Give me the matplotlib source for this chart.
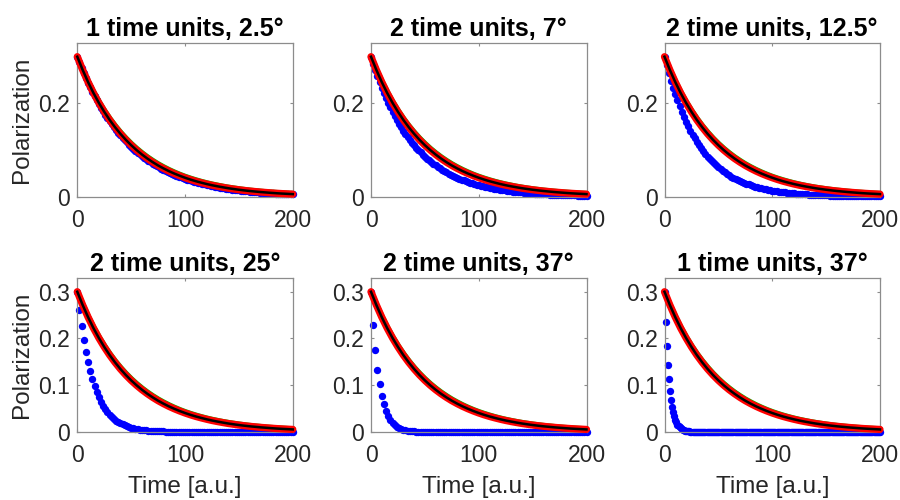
import matplotlib
matplotlib.use("Agg")
import matplotlib.pyplot as plt

plt.rcParams['font.family'] = ['Liberation Sans', 'DejaVu Sans']

titles = ["1 time units, 2.5°", "2 time units, 7°", "2 time units, 12.5°",
          "2 time units, 25°", "2 time units, 37°", "1 time units, 37°"]

# sampling grids
time_step2 = list(range(0, 201, 2))
time_step1 = list(range(0, 201, 1))
time_step5 = list(range(0, 201, 5))

# red reference curve (thick), black fit, green curve (read every 5 units)
red_vals = [0.3000, 0.2715, 0.2456, 0.2222, 0.2011, 0.1820, 0.1646, 0.1490, 0.1348, 0.1220,
            0.1104, 0.0999, 0.0904, 0.0818, 0.0740, 0.0669, 0.0606, 0.0548, 0.0496, 0.0449,
            0.0406, 0.0367, 0.0332, 0.0301, 0.0272, 0.0246, 0.0223, 0.0202, 0.0182, 0.0165,
            0.0149, 0.0135, 0.0122, 0.0111, 0.0100, 0.0091, 0.0082, 0.0074, 0.0067, 0.0061,
            0.0055]
black_vals = [0.3000, 0.2715, 0.2456, 0.2222, 0.2011, 0.1820, 0.1646, 0.1490, 0.1348, 0.1220,
              0.1104, 0.0999, 0.0904, 0.0818, 0.0740, 0.0669, 0.0606, 0.0548, 0.0496, 0.0449,
              0.0406, 0.0367, 0.0332, 0.0301, 0.0272, 0.0246, 0.0223, 0.0202, 0.0182, 0.0165,
              0.0149, 0.0135, 0.0122, 0.0111, 0.0100, 0.0091, 0.0082, 0.0074, 0.0067, 0.0061,
              0.0055]
green_vals = [0.3000, 0.2722, 0.2470, 0.2242, 0.2034, 0.1846, 0.1675, 0.1520, 0.1380, 0.1252,
              0.1136, 0.1031, 0.0936, 0.0849, 0.0771, 0.0699, 0.0635, 0.0576, 0.0523, 0.0474,
              0.0430, 0.0391, 0.0355, 0.0322, 0.0292, 0.0265, 0.0241, 0.0218, 0.0198, 0.0180,
              0.0163, 0.0148, 0.0134, 0.0122, 0.0111, 0.0100, 0.0091, 0.0083, 0.0075, 0.0068,
              0.0062]

# blue simulated points
blue_p1 = [0.3000, 0.2879, 0.2763, 0.2651, 0.2544, 0.2441, 0.2342, 0.2248, 0.2157, 0.2070,
           0.1986, 0.1906, 0.1829, 0.1755, 0.1684, 0.1616, 0.1551, 0.1488, 0.1428, 0.1370,
           0.1315, 0.1262, 0.1211, 0.1162, 0.1115, 0.1070, 0.1027, 0.0985, 0.0945, 0.0907,
           0.0871, 0.0836, 0.0802, 0.0769, 0.0738, 0.0709, 0.0680, 0.0652, 0.0626, 0.0601,
           0.0577, 0.0553, 0.0531, 0.0509, 0.0489, 0.0469, 0.0450, 0.0432, 0.0415, 0.0398,
           0.0382, 0.0366, 0.0351, 0.0337, 0.0324, 0.0311, 0.0298, 0.0286, 0.0274, 0.0263,
           0.0253, 0.0242, 0.0233, 0.0223, 0.0214, 0.0206, 0.0197, 0.0189, 0.0182, 0.0174,
           0.0167, 0.0161, 0.0154, 0.0148, 0.0142, 0.0136, 0.0131, 0.0125, 0.0120, 0.0115,
           0.0111, 0.0106, 0.0102, 0.0098, 0.0094, 0.0090, 0.0086, 0.0083, 0.0080, 0.0076,
           0.0073, 0.0070, 0.0067, 0.0065, 0.0062, 0.0060, 0.0057, 0.0055, 0.0053, 0.0051,
           0.0049]
blue_p2 = [0.3000, 0.2854, 0.2715, 0.2582, 0.2456, 0.2336, 0.2222, 0.2114, 0.2011, 0.1913,
           0.1820, 0.1731, 0.1646, 0.1566, 0.1490, 0.1417, 0.1348, 0.1282, 0.1220, 0.1160,
           0.1104, 0.1050, 0.0999, 0.0950, 0.0904, 0.0860, 0.0818, 0.0778, 0.0740, 0.0704,
           0.0669, 0.0637, 0.0606, 0.0576, 0.0548, 0.0521, 0.0496, 0.0472, 0.0449, 0.0427,
           0.0406, 0.0386, 0.0367, 0.0349, 0.0332, 0.0316, 0.0301, 0.0286, 0.0272, 0.0259,
           0.0246, 0.0234, 0.0223, 0.0212, 0.0202, 0.0192, 0.0182, 0.0174, 0.0165, 0.0157,
           0.0149, 0.0142, 0.0135, 0.0129, 0.0122, 0.0116, 0.0111, 0.0105, 0.0100, 0.0095,
           0.0091, 0.0086, 0.0082, 0.0078, 0.0074, 0.0071, 0.0067, 0.0064, 0.0061, 0.0058,
           0.0055, 0.0052, 0.0050, 0.0047, 0.0045, 0.0043, 0.0041, 0.0039, 0.0037, 0.0035,
           0.0033, 0.0032, 0.0030, 0.0029, 0.0027, 0.0026, 0.0025, 0.0024, 0.0022, 0.0021,
           0.0020]
blue_p3 = [0.3000, 0.2818, 0.2647, 0.2487, 0.2336, 0.2195, 0.2062, 0.1937, 0.1820, 0.1709,
           0.1606, 0.1508, 0.1417, 0.1331, 0.1251, 0.1175, 0.1104, 0.1037, 0.0974, 0.0915,
           0.0860, 0.0808, 0.0759, 0.0713, 0.0669, 0.0629, 0.0591, 0.0555, 0.0521, 0.0490,
           0.0460, 0.0432, 0.0406, 0.0381, 0.0358, 0.0337, 0.0316, 0.0297, 0.0279, 0.0262,
           0.0246, 0.0231, 0.0217, 0.0204, 0.0192, 0.0180, 0.0169, 0.0159, 0.0149, 0.0140,
           0.0132, 0.0124, 0.0116, 0.0109, 0.0103, 0.0097, 0.0091, 0.0085, 0.0080, 0.0075,
           0.0071, 0.0066, 0.0062, 0.0059, 0.0055, 0.0052, 0.0049, 0.0046, 0.0043, 0.0040,
           0.0038, 0.0036, 0.0033, 0.0031, 0.0029, 0.0028, 0.0026, 0.0024, 0.0023, 0.0022,
           0.0020, 0.0019, 0.0018, 0.0017, 0.0016, 0.0015, 0.0014, 0.0013, 0.0012, 0.0012,
           0.0011, 0.0010, 0.0010, 0.0009, 0.0008, 0.0008, 0.0007, 0.0007, 0.0007, 0.0006,
           0.0006]
blue_p4 = [0.3000, 0.2610, 0.2271, 0.1976, 0.1719, 0.1495, 0.1301, 0.1132, 0.0985, 0.0857,
           0.0745, 0.0648, 0.0564, 0.0491, 0.0427, 0.0371, 0.0323, 0.0281, 0.0245, 0.0213,
           0.0185, 0.0161, 0.0140, 0.0122, 0.0106, 0.0092, 0.0080, 0.0070, 0.0061, 0.0053,
           0.0046, 0.0040, 0.0035, 0.0030, 0.0026, 0.0023, 0.0020, 0.0017, 0.0015, 0.0013,
           0.0011, 0.0010, 0.0009, 0.0008, 0.0007, 0.0006, 0.0005, 0.0004, 0.0004, 0.0003,
           0.0003, 0, 0, 0, 0, 0, 0, 0, 0, 0,
           0, 0, 0, 0, 0, 0, 0, 0, 0, 0,
           0, 0, 0, 0, 0, 0, 0, 0, 0, 0,
           0, 0, 0, 0, 0, 0, 0, 0, 0, 0,
           0, 0, 0, 0, 0, 0, 0, 0, 0, 0,
           0]
blue_p5 = [0.3000, 0.2289, 0.1747, 0.1333, 0.1017, 0.0776, 0.0592, 0.0452, 0.0345, 0.0263,
           0.0201, 0.0153, 0.0117, 0.0089, 0.0068, 0.0052, 0.0040, 0.0030, 0.0023, 0.0018,
           0.0013, 0.0010, 0.0008, 0.0006, 0.0005, 0.0003, 0, 0, 0, 0,
           0, 0, 0, 0, 0, 0, 0, 0, 0, 0,
           0, 0, 0, 0, 0, 0, 0, 0, 0, 0,
           0, 0, 0, 0, 0, 0, 0, 0, 0, 0,
           0, 0, 0, 0, 0, 0, 0, 0, 0, 0,
           0, 0, 0, 0, 0, 0, 0, 0, 0, 0,
           0, 0, 0, 0, 0, 0, 0, 0, 0, 0,
           0, 0, 0, 0, 0, 0, 0, 0, 0, 0,
           0]
blue_p6 = [0.3000, 0.2349, 0.1839, 0.1440, 0.1128, 0.0883, 0.0691, 0.0541, 0.0424, 0.0332,
           0.0260, 0.0204, 0.0159, 0.0125, 0.0098, 0.0077, 0.0060, 0.0047, 0.0037, 0.0029,
           0.0023, 0.0018, 0.0014, 0.0011, 0.0009, 0.0007, 0.0005, 0.0004, 0.0003, 0,
           0, 0, 0, 0, 0, 0, 0, 0, 0, 0,
           0, 0, 0, 0, 0, 0, 0, 0, 0, 0,
           0, 0, 0, 0, 0, 0, 0, 0, 0, 0,
           0, 0, 0, 0, 0, 0, 0, 0, 0, 0,
           0, 0, 0, 0, 0, 0, 0, 0, 0, 0,
           0, 0, 0, 0, 0, 0, 0, 0, 0, 0,
           0, 0, 0, 0, 0, 0, 0, 0, 0, 0,
           0, 0, 0, 0, 0, 0, 0, 0, 0, 0,
           0, 0, 0, 0, 0, 0, 0, 0, 0, 0,
           0, 0, 0, 0, 0, 0, 0, 0, 0, 0,
           0, 0, 0, 0, 0, 0, 0, 0, 0, 0,
           0, 0, 0, 0, 0, 0, 0, 0, 0, 0,
           0, 0, 0, 0, 0, 0, 0, 0, 0, 0,
           0, 0, 0, 0, 0, 0, 0, 0, 0, 0,
           0, 0, 0, 0, 0, 0, 0, 0, 0, 0,
           0, 0, 0, 0, 0, 0, 0, 0, 0, 0,
           0, 0, 0, 0, 0, 0, 0, 0, 0, 0,
           0]

blue_series = [(time_step2, blue_p1), (time_step2, blue_p2), (time_step2, blue_p3),
               (time_step2, blue_p4), (time_step2, blue_p5), (time_step1, blue_p6)]

x_ticks = [0, 100, 200]
y_ticks_top = [0, 0.2]
y_ticks_bottom = [0, 0.1, 0.2, 0.3]
y_tick_labels_top = ["0", "0.2"]
y_tick_labels_bottom = ["0", "0.1", "0.2", "0.3"]

W, H = 900, 500
fig = plt.figure(figsize=(9, 5), dpi=100)
lefts = [77.3, 371.0, 664.5]
width = 215.5
rows = [(42.7, 196.7), (277.7, 432.0)]

spine_color = '#8c8c8c'
text_color = '#262626'

for i in range(6):
    r, c = divmod(i, 3)
    top, bot = rows[r]
    ax = fig.add_axes([lefts[c] / W, 1 - bot / H, width / W, (bot - top) / H])
    tx, by = blue_series[i]
    ax.plot(tx, by, 'o', color='#0000ff', ms=5.3, mew=0, clip_on=False, zorder=2)
    ax.plot(time_step5, green_vals, '-', color='#00c000', lw=4.2, clip_on=False, zorder=3,
            solid_capstyle='round')
    ax.plot(time_step5, red_vals, '-', color='#ff0000', lw=5.2, clip_on=False, zorder=4,
            solid_capstyle='round')
    ax.plot(time_step5, black_vals, '-', color='#000000', lw=1.8, clip_on=False, zorder=5)
    ax.set_xlim(0, 200)
    ax.set_ylim(0, 0.33)
    ax.set_xticks(x_ticks)
    ax.set_xticklabels([str(v) for v in x_ticks])
    if r == 0:
        ax.set_yticks(y_ticks_top)
        ax.set_yticklabels(y_tick_labels_top)
    else:
        ax.set_yticks(y_ticks_bottom)
        ax.set_yticklabels(y_tick_labels_bottom)
        ax.set_xlabel("Time [a.u.]", fontsize=17.5, color=text_color, labelpad=6)
    if c == 0:
        ax.set_ylabel("Polarization", fontsize=17.5, color=text_color, labelpad=4)
    ax.tick_params(direction='in', length=2.5, width=0.8, colors=spine_color,
                   labelcolor=text_color, labelsize=16.5, top=True, right=True)
    ax.tick_params(axis='x', pad=9)
    ax.tick_params(axis='y', pad=5)
    for s in ax.spines.values():
        s.set_color(spine_color)
        s.set_linewidth(0.9)
    ax.set_title(titles[i], fontsize=18, fontweight='bold', color='black', pad=5)

fig.savefig("out.png", dpi=100)
